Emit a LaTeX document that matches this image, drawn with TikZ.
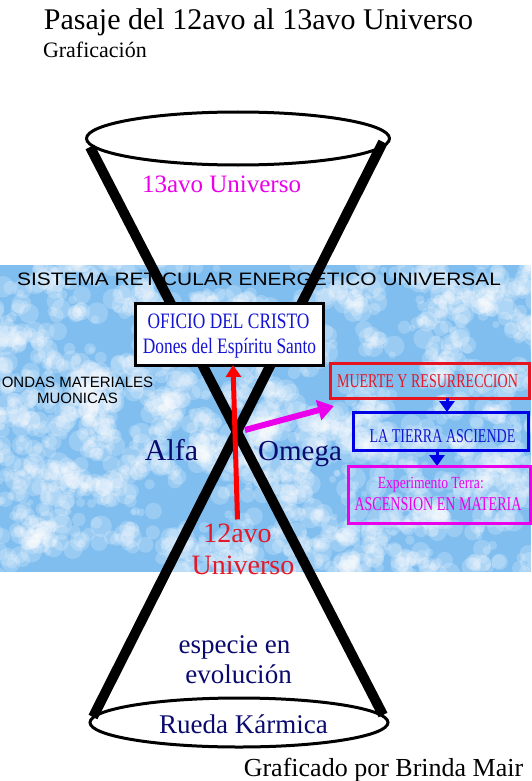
\documentclass[tikz,border=0pt]{standalone}
\usepackage{fontspec}
\setmainfont{Liberation Serif}
\setsansfont{Liberation Sans}
\newfontfamily\condbox{Liberation Serif}[FakeStretch=0.79]
\newfontfamily\condsmall{Liberation Serif}[FakeStretch=0.72]
\newfontfamily\condexp{Liberation Serif}[FakeStretch=0.8]
\newfontfamily\widesans{Liberation Sans}[FakeStretch=1.16]
\usetikzlibrary{arrows.meta,shapes.geometric}
\newcommand\fsz[1]{\fontsize{#1}{#1}\selectfont}
\definecolor{navy}{RGB}{10,10,110}
\definecolor{boxblue}{RGB}{20,20,210}
\definecolor{borderblue}{RGB}{0,0,230}
\definecolor{mag}{RGB}{235,0,235}
\definecolor{txtred}{RGB}{225,25,40}
\definecolor{bordred}{RGB}{230,20,30}
\definecolor{sky}{RGB}{128,190,240}
\begin{document}
\begin{tikzpicture}[x=1pt,y=-1pt,
  txt/.style={inner sep=0pt, outer sep=0pt, anchor=base},
  ring/.style={draw, line width=3pt, ellipse, inner sep=0pt},
  cone/.style={line width=10pt, line cap=butt},
  boxnode/.style={draw, line width=3pt, inner sep=0pt, outer sep=0pt},
  redarrow/.style={draw=red, line width=5pt, -{Triangle[length=12pt,width=15pt]}},
  magarrow/.style={draw=mag, line width=6pt, -{Triangle[length=16pt,width=20pt]}},
  bluearrow/.style={draw=borderblue, line width=3pt, -{Triangle[length=11pt,width=15pt]}}]
\useasboundingbox (0,0) rectangle (531,781);
\fill[white] (0,0) rectangle (531,781);
% sky band with clouds
\begin{scope}
  \clip (0,265) rectangle (531,572);
  \fill[sky] (0,265) rectangle (531,572);
  \pgfmathsetseed{11}
  \foreach \i in {1,...,300}{
    \pgfmathsetmacro\cx{rnd*550-10}
    \pgfmathsetmacro\cy{255+rnd*327}
    \foreach \j in {1,...,7}{
      \pgfmathsetmacro\dx{\cx+(rnd-0.5)*30}
      \pgfmathsetmacro\dy{\cy+(rnd-0.5)*24}
      \pgfmathsetmacro\cr{3+rnd*8}
      \fill[white, opacity=0.2] (\dx,\dy) circle[radius=\cr pt];
    }
  }
\end{scope}
% title texts
\node[txt] (title) at (258.5,30) {\fsz{30}Pasaje del 12avo al 13avo Universo};
\node[txt, anchor=base west] (graf) at (43,58) {\fsz{22}Graficación};
\node[txt] (sistema) at (259,285) {\widesans\fsz{18}SISTEMA RETICULAR ENERGETICO UNIVERSAL};
\node[txt] (ondasA) at (77.5,387) {\sffamily\fsz{15}ONDAS MATERIALES};
\node[txt] (ondasB) at (77.5,403) {\sffamily\fsz{15}MUONICAS};
% rings
\node[ring, minimum width=303pt, minimum height=53pt] (topring) at (238,138.5) {};
\node[ring, minimum width=298pt, minimum height=49pt] (botring) at (239,722.5) {};
% cone lines
\coordinate (tl) at (90,147);
\coordinate (br) at (383,715);
\coordinate (tr) at (383,142);
\coordinate (bl) at (93,717);
\draw[cone] (tl) -- (br);
\draw[cone] (tr) -- (bl);
\coordinate (cross) at (245,430);
\coordinate (magend) at (334,406);
% texts in cones
\node[txt, text=mag] (u13) at (221.5,192) {\fsz{25}13avo Universo};
\node[txt, text=navy] (alfa) at (171.5,460) {\fsz{30}Alfa};
\node[txt, text=navy] (omega) at (300,460) {\fsz{29}Omega};
\node[txt, text=txtred] (u12a) at (237.5,542) {\fsz{28}12avo};
\node[txt, text=txtred] (u12b) at (243,574) {\fsz{28}Universo};
\node[txt, text=navy] (espA) at (234.5,653) {\fsz{27}especie en};
\node[txt, text=navy] (espB) at (238.5,683) {\fsz{27}evolución};
\node[txt, text=navy] (rueda) at (243.5,733) {\fsz{27}Rueda Kármica};
\node[txt] (grafpor) at (383.5,776) {\fsz{26}Graficado por Brinda Mair};
% boxes
\node[boxnode, fill=white, minimum width=188pt, minimum height=62pt] (oficio) at (229,334) {};
\node[txt, text=boxblue] (ofA) at (228.5,328) {\condbox\fsz{22}OFICIO DEL CRISTO};
\node[txt, text=boxblue] (ofB) at (229.5,353) {\condbox\fsz{22}Dones del Espíritu Santo};
\node[boxnode, draw=bordred, minimum width=199pt, minimum height=35pt] (muerte) at (429.5,380.5) {};
\node[txt, text=txtred] (muerteT) at (427.5,387) {\condsmall\fsz{19.5}MUERTE Y RESURRECCION};
\node[boxnode, draw=borderblue, minimum width=175pt, minimum height=38pt] (tierra) at (440.5,431) {};
\node[txt, text=boxblue] (tierraT) at (442.5,442) {\condsmall\fsz{19.5}LA TIERRA ASCIENDE};
\node[boxnode, draw=mag, minimum width=182pt, minimum height=57pt] (exper) at (439,494.5) {};
\node[txt, text=mag] (expA) at (430.8,488) {\condexp\fsz{17}Experimento Terra:};
\node[txt, text=mag] (expB) at (438,510) {\condsmall\fsz{19.5}ASCENSION EN MATERIA};
% arrows
\draw[redarrow] ([yshift=4pt]u12a.north) -- ([xshift=4pt]oficio.south);
\draw[magarrow] (cross) -- (magend);
\draw[bluearrow] ([xshift=17.5pt]muerte.south) -- ([xshift=6.5pt]tierra.north);
\draw[bluearrow] ([xshift=-3.5pt]tierra.south) -- ([xshift=-2pt]exper.north);
\end{tikzpicture}
\end{document}
